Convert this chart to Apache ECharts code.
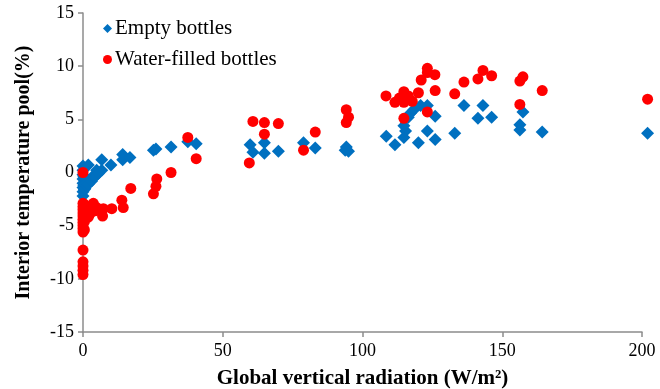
<!DOCTYPE html>
<html>
<head>
<meta charset="utf-8">
<script src="https://cdn.jsdelivr.net/npm/echarts@6/dist/echarts.min.js"></script>
<style>
    html, body { margin: 0; padding: 0; background: #fff; }
    #chart { width: 660px; height: 389px; }
</style>
</head>
<body>
<div id="chart"></div>
<script>
// 数据: [radiation, temperature pool]
var emptyBottles = [
    [0, 0.6], [0, 0.2], [0, -0.2], [0, -0.6], [0, -1.0], [0, -1.4], [0, -1.8], [0, -2.2],
    [0.3, -0.4], [0.3, -1.2], [0.5, -1.6],
    [0.7, -1.5], [1.3, -1.2], [1.9, -1.1], [2.5, -0.75], [3.1, -0.8], [3.7, -0.3],
    [4.3, -0.4], [4.9, 0.2], [5.5, -0.1], [6.7, 0.2],
    [1.9, 0.7], [6.7, 1.2], [10, 0.7], [14.2, 1.7], [14.2, 1.2], [16.8, 1.4],
    [25.2, 2.1], [26.1, 2.2], [31.5, 2.4], [37.5, 2.9], [40.5, 2.7],
    [59.8, 2.6], [60.8, 1.9], [64.9, 2.8], [64.9, 1.8], [69.9, 2.0], [78.9, 2.8], [83.1, 2.3],
    [94.2, 2.4], [95, 2.0], [93.8, 2.1],
    [108.5, 3.4], [111.6, 2.6], [114.8, 3.3], [115.4, 3.9], [114.8, 4.4], [116.4, 5.2],
    [117.2, 5.6], [118.4, 5.9], [120.8, 6.3], [123.2, 6.3], [126, 5.3], [123.2, 3.9],
    [120, 2.8], [126, 3.1], [133, 3.7], [136.3, 6.3], [141.3, 5.1], [143.1, 6.3],
    [146.2, 5.2], [156.3, 4.5], [156.3, 4.0], [157.4, 5.7], [164.3, 3.8], [202, 3.7]
];
var waterBottles = [
    [0, 0], [0, -2.9], [0, -3.2], [0, -3.5], [0, -3.8], [0, -4.1], [0, -4.4], [0, -4.7],
    [0, -5.0], [0, -5.3], [0, -5.6], [0, -7.3], [0, -8.4], [0, -8.8], [0, -9.2], [0, -9.6],
    [0.5, -3.0], [0.5, -4.6], [0.5, -5.4],
    [1.9, -3.5], [1.9, -4.2], [2.5, -3.9], [3.7, -2.9], [4.3, -3.6], [4.9, -3.3],
    [7.0, -4.1], [7.3, -3.4], [10.3, -3.4], [13.9, -2.6], [14.4, -3.3], [17.1, -1.5],
    [25.2, -2.0], [26.1, -1.3], [26.4, -0.6], [31.5, 0.0], [37.5, 3.3], [40.5, 1.3],
    [59.5, 0.9], [60.8, 4.8], [64.9, 4.7], [64.9, 3.6], [69.9, 4.6], [78.9, 2.1], [83.1, 3.8],
    [94.2, 5.9], [95, 5.2], [94.2, 4.7],
    [108.4, 7.2], [111.6, 6.6], [114.8, 7.6], [114.8, 6.6], [116.4, 7.2], [117.8, 6.7],
    [120, 7.5], [121, 8.7], [123.2, 9.8], [123.2, 9.4], [125.9, 9.2], [126, 7.7],
    [123.2, 5.7], [114.8, 5.1], [113.2, 7.0], [116.6, 6.9], [133, 7.4], [136.3, 8.5],
    [141.3, 8.8], [143.1, 9.6], [146.2, 9.1], [156.3, 8.6], [157.4, 9.0], [156.3, 6.4],
    [164.3, 7.7], [202, 6.9]
];
var seriesNames = ['Empty bottles', 'Water-filled bottles'];
var xTicks = [0, 50, 100, 150, 200];
var yTicks = [-15, -10, -5, 0, 5, 10, 15];

var font = 'Liberation Serif, Times New Roman, serif';
var axisColor = '#8c8c8c';

var myChart = echarts.init(document.getElementById('chart'));
var option = {
    animation: false,
    textStyle: { fontFamily: font, color: '#000' },
    grid: { left: 83, right: 18, top: 13, bottom: 57, outerBoundsMode: 'none' },
    legend: {
        orient: 'vertical',
        left: 98,
        top: 13,
        itemGap: 10,
        itemWidth: 9,
        itemHeight: 9,
        textStyle: { fontFamily: font, fontSize: 21, color: '#000', padding: [0, 0, 0, -2] },
        data: [
            { name: seriesNames[0], icon: 'diamond' },
            { name: seriesNames[1], icon: 'circle' }
        ]
    },
    xAxis: {
        type: 'value',
        min: xTicks[0],
        max: xTicks[xTicks.length - 1],
        interval: 50,
        name: 'Global vertical radiation (W/m²)',
        nameLocation: 'middle',
        nameGap: 36,
        nameTextStyle: { fontFamily: font, fontSize: 21, fontWeight: 'bold', color: '#000' },
        splitLine: { show: false },
        axisLine: { onZero: false, lineStyle: { color: axisColor, width: 1.5 } },
        axisTick: { show: true, length: 5, lineStyle: { color: axisColor, width: 1.5 } },
        axisLabel: { fontFamily: font, fontSize: 18, color: '#000', margin: 10 }
    },
    yAxis: {
        type: 'value',
        min: yTicks[0],
        max: yTicks[yTicks.length - 1],
        interval: 5,
        name: 'Interior temperature pool(%)',
        nameLocation: 'middle',
        nameGap: 49,
        nameTextStyle: { fontFamily: font, fontSize: 20, fontWeight: 'bold', color: '#000' },
        splitLine: { show: false },
        axisLine: { show: true, onZero: false, lineStyle: { color: axisColor, width: 1.5 } },
        axisTick: { show: true, length: 5, lineStyle: { color: axisColor, width: 1.5 } },
        axisLabel: { fontFamily: font, fontSize: 18, color: '#000', margin: 9 }
    },
    series: [{
        name: seriesNames[0],
        type: 'scatter',
        symbol: 'diamond',
        symbolSize: 13,
        clip: false,
        itemStyle: { color: '#0070C0', opacity: 1 },
        data: emptyBottles
    }, {
        name: seriesNames[1],
        type: 'scatter',
        symbol: 'circle',
        symbolSize: 11,
        clip: false,
        itemStyle: { color: '#FF0000', opacity: 1 },
        data: waterBottles
    }]
};
myChart.setOption(option);
</script>
</body>
</html>
